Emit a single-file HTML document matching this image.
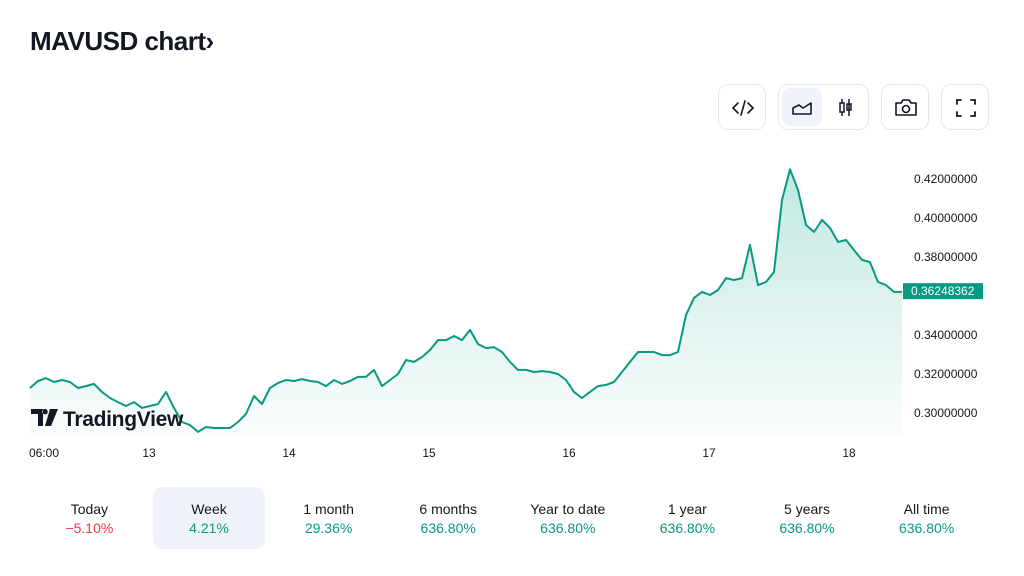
<!DOCTYPE html>
<html><head><meta charset="utf-8">
<style>
body{margin:0;width:1024px;height:576px;background:#fff;font-family:"Liberation Sans",sans-serif;color:#131722;position:relative;overflow:hidden}
.title{position:absolute;left:30px;top:26px;font-size:26px;font-weight:bold;letter-spacing:-0.5px}
.btn{position:absolute;top:84px;height:46px;border:1px solid #e6e8ee;border-radius:10px;box-sizing:border-box;background:#fff}
.tabs{position:absolute;top:487px;left:0;width:1024px;height:62px}
.tab{position:absolute;top:0;width:112px;height:62px;border-radius:10px;text-align:center;font-size:14px}
.tab .l{margin-top:14px;color:#131722}
.tab .v{margin-top:3px}
svg{position:absolute;left:0;top:0}
</style></head><body>
<div class="title">MAVUSD chart›</div>

<div class="btn" style="left:718px;width:48px">
<svg width="48" height="46" style="position:absolute"><path d="M19 18l-5 5 5 5M29 18l5 5-5 5M26 16l-4 14" stroke="#131722" stroke-width="1.6" fill="none" stroke-linecap="round"/></svg></div>
<div class="btn" style="left:778px;width:91px">
<div style="position:absolute;left:3px;top:3px;width:40px;height:38px;border-radius:8px;background:#f0f3fa">
<svg width="40" height="38" style="position:absolute"><path d="M11 26v-6l6-3 4 3 8-5v11z" stroke="#131722" stroke-width="1.6" fill="none" stroke-linejoin="round"/></svg></div>
<div style="position:absolute;left:47px;top:3px;width:40px;height:38px">
<svg width="40" height="38" style="position:absolute"><rect x="14" y="15" width="4" height="9" stroke="#131722" stroke-width="1.5" fill="none"/><path d="M16 11v4M16 24v4M23 11v17" stroke="#131722" stroke-width="1.5"/><rect x="21" y="16" width="4" height="6" stroke="#131722" stroke-width="1.5" fill="none"/></svg></div>
</div>
<div class="btn" style="left:881px;width:48px">
<svg width="48" height="46" style="position:absolute"><path d="M14 18h5l2-3h6l2 3h5v12H14z" stroke="#131722" stroke-width="1.6" fill="none" stroke-linejoin="round"/><circle cx="24" cy="24" r="3.5" stroke="#131722" stroke-width="1.6" fill="none"/></svg></div>
<div class="btn" style="left:941px;width:48px">
<svg width="48" height="46" style="position:absolute"><path d="M15 19v-4h4M29 15h4v4M33 27v4h-4M19 31h-4v-4" stroke="#131722" stroke-width="1.8" fill="none" stroke-linecap="round"/></svg></div>

<svg id="chart" width="1024" height="476">
<defs><linearGradient id="g" x1="0" y1="0" x2="0" y2="1">
<stop offset="0" stop-color="#22ab94" stop-opacity="0.28"/><stop offset="1" stop-color="#22ab94" stop-opacity="0.02"/></linearGradient></defs>
</svg>

<div class="tabs" id="tabs"></div>

<script>
const prices=[0.3128,0.3164,0.3179,0.3159,0.3169,0.3159,0.3128,0.3138,0.3149,0.3108,0.3077,0.3056,0.3036,0.3056,0.3026,0.3036,0.3046,0.3108,0.3026,0.2954,0.2938,0.2903,0.2928,0.2923,0.2923,0.2923,0.2954,0.2995,0.3087,0.3046,0.3128,0.3154,0.3169,0.3164,0.3174,0.3164,0.3159,0.3138,0.3169,0.3149,0.3164,0.3185,0.3185,0.3221,0.3138,0.3169,0.3200,0.3272,0.3262,0.3287,0.3323,0.3374,0.3374,0.3395,0.3374,0.3426,0.3354,0.3333,0.3338,0.3313,0.3262,0.3221,0.3221,0.3210,0.3215,0.3210,0.3200,0.3169,0.3108,0.3077,0.3108,0.3138,0.3144,0.3159,0.3210,0.3262,0.3313,0.3313,0.3313,0.3297,0.3297,0.3313,0.3503,0.3590,0.3621,0.3605,0.3631,0.3692,0.3682,0.3692,0.3862,0.3656,0.3672,0.3723,0.4092,0.4250,0.4144,0.3964,0.3928,0.3990,0.3949,0.3877,0.3887,0.3836,0.3785,0.3774,0.3672,0.3656,0.3621,0.3621];
const yTicks=[0.30,0.32,0.34,0.36,0.38,0.40,0.42];
const xLabels=["06:00","13","14","15","16","17","18"];
const xLabelHours=[6,24,48,72,96,120,144];
const lastPrice="0.36248362";
const tabLabels=["Today","Week","1 month","6 months","Year to date","1 year","5 years","All time"];
const tabValues=["\u22125.10%","4.21%","29.36%","636.80%","636.80%","636.80%","636.80%","636.80%"];

const NS="http://www.w3.org/2000/svg";
const svg=document.getElementById('chart');
const y=v=>179+(0.42-v)*1950;
const xi=i=>30+i*(872/(prices.length-1));
const xh=h=>149+(h-24)*140/24;
function mk(t,a){const e=document.createElementNS(NS,t);for(const k in a)e.setAttribute(k,a[k]);svg.appendChild(e);return e;}
let d="";prices.forEach((v,i)=>{d+=(i?"L":"M")+xi(i).toFixed(1)+" "+y(v).toFixed(1);});
const area=mk('path',{d:d+"L"+xi(prices.length-1)+" 436L30 436Z",fill:"url(#g)"});


const line=mk('path',{d:d,fill:"none",stroke:"#089981","stroke-width":2,"stroke-linejoin":"round"});


yTicks.forEach(v=>{if(v===0.36)return;
 const t=mk('text',{x:914,y:y(v)+4,"font-size":12,fill:"#131722","font-family":"Liberation Sans"});t.textContent=v.toFixed(8);
 
 });
xLabels.forEach((s,i)=>{const t=mk('text',{x:xh(xLabelHours[i]),y:457,"font-size":12,fill:"#131722","text-anchor":"middle","font-family":"Liberation Sans"});t.textContent=s;
 
 });
const ly=y(0.36248362);
const box=mk('rect',{x:903,y:ly-8,width:80,height:16,fill:"#089981"});


const lt=mk('text',{x:911,y:ly+4,"font-size":12,fill:"#fff","font-family":"Liberation Sans"});lt.textContent=lastPrice;


const logo=mk('g',{});


logo.innerHTML='<path d="M31 409h12v17h-5v-12h-7z M45 409a2.7 2.7 0 1 0 0.1 0z M50 409h8l-7 17h-6z" fill="#131722"/><text x="63" y="426" font-size="21" font-weight="bold" fill="#131722" font-family="Liberation Sans" letter-spacing="-0.3">TradingView</text>';
svg.appendChild(logo);

const tabs=document.getElementById('tabs');
tabLabels.forEach((s,i)=>{const el=document.createElement('div');el.className='tab';
 el.style.left=(153+(i-1)*119.6)+'px';
 if(i===1)el.style.background='#f0f3fa';
 
 
 const col=tabValues[i].startsWith('\u2212')?'#f23645':'#089981';
 el.innerHTML='<div class="l">'+s+'</div><div class="v" style="color:'+col+'">'+tabValues[i]+'</div>';
 tabs.appendChild(el);});
</script>
</body></html>
